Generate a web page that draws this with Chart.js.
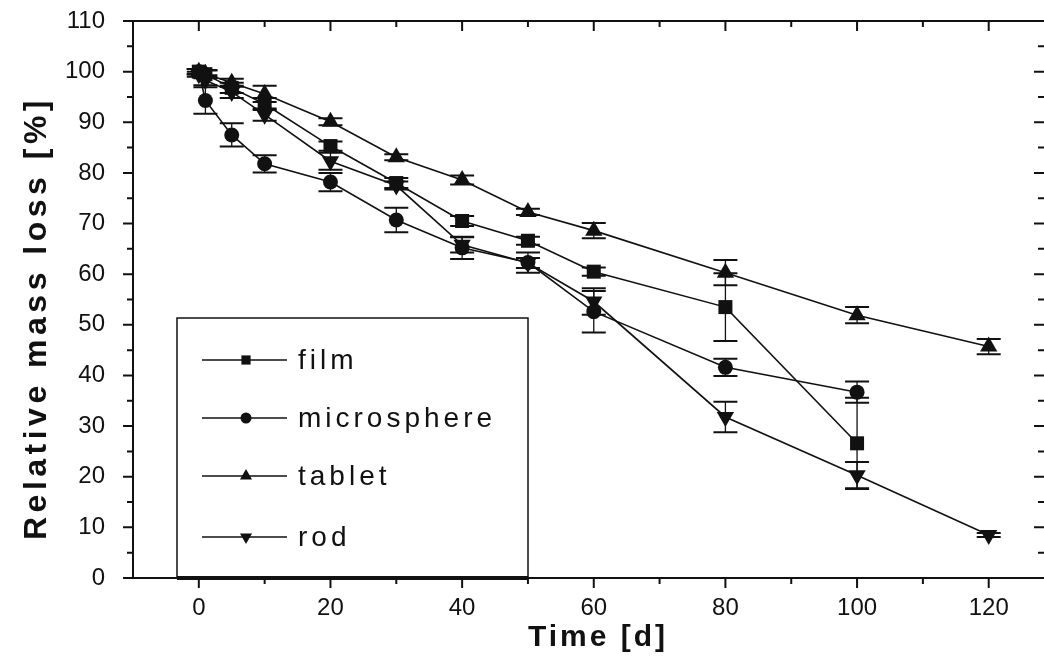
<!DOCTYPE html>
<html>
<head>
<meta charset="utf-8">
<script src="https://cdn.jsdelivr.net/npm/chart.js@4.4.1/dist/chart.umd.min.js"></script>
<style>
  html, body { margin: 0; padding: 0; background: #fff; overflow: hidden; }
  #wrap { width: 1044px; height: 668px; position: relative; }
</style>
</head>
<body>
<div id="wrap"><canvas id="chart"></canvas></div>
<script>
// relative mass loss vs time, four sample shapes
const X_TICKS = [0, 20, 40, 60, 80, 100, 120];
const Y_TICKS = [0, 10, 20, 30, 40, 50, 60, 70, 80, 90, 100, 110];

const TIME_FILM  = [0, 1, 5, 10, 20, 30, 40, 50, 60, 80, 100];
const FILM       = [100, 99.5, 96.8, 93.6, 85.3, 78.0, 70.5, 66.6, 60.5, 53.5, 26.6];
const FILM_ERR   = [0.5, 0.8, 1.0, 1.2, 0.9, 1.0, 1.0, 0.8, 0.8, 6.7, 9.0];

const TIME_MICRO = [0, 1, 5, 10, 20, 30, 40, 50, 60, 80, 100];
const MICRO      = [100, 94.3, 87.5, 81.8, 78.2, 70.7, 65.2, 62.3, 52.6, 41.6, 36.7];
const MICRO_ERR  = [0.5, 2.6, 2.3, 1.7, 1.8, 2.4, 2.2, 2.0, 4.1, 1.7, 2.1];

const TIME_TABLET = [0, 1, 5, 10, 20, 30, 40, 50, 60, 80, 100, 120];
const TABLET      = [100, 99.6, 97.8, 95.6, 90.1, 83.1, 78.6, 72.3, 68.6, 60.3, 51.9, 45.7];
const TABLET_ERR  = [0.5, 0.6, 0.8, 1.6, 0.7, 0.6, 0.9, 0.6, 1.5, 2.5, 1.6, 1.5];

const TIME_ROD = [0, 1, 5, 10, 20, 30, 40, 50, 60, 80, 100, 120];
const ROD      = [99.5, 98.3, 96.0, 91.5, 82.3, 77.5, 65.8, 62.2, 54.6, 31.8, 20.3, 8.5];
const ROD_ERR  = [0.5, 1.0, 1.2, 1.2, 1.7, 0.8, 1.5, 1.0, 2.6, 3.0, 2.6, 0.4];

const LABELS = ['film', 'microsphere', 'tablet', 'rod'];

const FONT = "'Liberation Sans', Arial, Helvetica, sans-serif";
const INK  = '#111';

const pts = (xs, ys) => xs.map((t, i) => ({ x: t, y: ys[i] }));

function series(label, xs, ys, errs, style, radius, rotation) {
  return {
    label,
    data: pts(xs, ys),
    errs,
    borderColor: INK,
    backgroundColor: INK,
    borderWidth: 1.6,
    pointStyle: style,
    pointRadius: radius,
    pointRotation: rotation || 0,
    pointBorderWidth: 0,
    pointBackgroundColor: INK,
    showLine: true,
    tension: 0,
  };
}

// eje con marcas: abajo/izq hacia fuera, arriba/dcha hacia dentro
const framePlugin = {
  id: 'frame',
  beforeDatasetsDraw(chart) {
    const { ctx, chartArea: a, scales: { x, y } } = chart;
    ctx.save();
    ctx.strokeStyle = INK;
    ctx.lineWidth = 2;
    ctx.beginPath();
    ctx.moveTo(a.left, a.top);    ctx.lineTo(a.right, a.top);
    ctx.moveTo(a.left, a.top);    ctx.lineTo(a.left, a.bottom);
    ctx.moveTo(a.left, a.bottom); ctx.lineTo(a.right, a.bottom);
    for (let v = 0; v <= 130; v += 10) {
      const px = x.getPixelForValue(v);
      if (px > a.right) continue;
      const len = v % 20 === 0 ? 10 : 6;
      ctx.moveTo(px, a.bottom); ctx.lineTo(px, a.bottom + len);
      ctx.moveTo(px, a.top);    ctx.lineTo(px, a.top + len);
    }
    for (let v = 0; v <= 110; v += 5) {
      const py = y.getPixelForValue(v);
      const len = v % 10 === 0 ? 10 : 6;
      ctx.moveTo(a.left - len, py);  ctx.lineTo(a.left, py);
      ctx.moveTo(a.right - len, py); ctx.lineTo(a.right, py);
    }
    ctx.stroke();

    // barras de error
    chart.data.datasets.forEach(ds => {
      ds.data.forEach((p, i) => {
        const e = ds.errs[i];
        const px = x.getPixelForValue(p.x);
        const y1 = y.getPixelForValue(p.y + e);
        const y2 = y.getPixelForValue(p.y - e);
        ctx.lineWidth = 1.3;
        ctx.beginPath();
        ctx.moveTo(px, y1); ctx.lineTo(px, y2);
        ctx.stroke();
        ctx.lineWidth = 2;
        ctx.beginPath();
        ctx.moveTo(px - 12, y1); ctx.lineTo(px + 12, y1);
        ctx.moveTo(px - 12, y2); ctx.lineTo(px + 12, y2);
        ctx.stroke();
      });
    });
    ctx.restore();
  },
  afterDraw(chart) {
    const { ctx, chartArea: a } = chart;
    ctx.save();

    // leyenda en caja
    const bx = 177, by = 318, bw = 351, bh = a.bottom - by;
    ctx.fillStyle = '#fff';
    ctx.fillRect(bx, by, bw, bh);
    ctx.strokeStyle = INK;
    ctx.lineWidth = 1.5;
    ctx.strokeRect(bx, by, bw, bh);
    ctx.lineWidth = 4;
    ctx.beginPath();
    ctx.moveTo(bx, a.bottom); ctx.lineTo(bx + bw, a.bottom);
    ctx.stroke();

    const rows = [360, 418, 476, 537];
    ctx.font = `28px ${FONT}`;
    ctx.letterSpacing = '4px';
    ctx.textBaseline = 'middle';
    ctx.textAlign = 'left';
    chart.data.datasets.forEach((ds, i) => {
      const ry = rows[i];
      ctx.strokeStyle = INK;
      ctx.lineWidth = 1.3;
      ctx.beginPath();
      ctx.moveTo(202, ry); ctx.lineTo(287, ry);
      ctx.stroke();
      ctx.fillStyle = INK;
      Chart.helpers.drawPoint(ctx, {
        pointStyle: ds.pointStyle, rotation: ds.pointRotation,
        radius: ds.pointStyle === 'rect' ? 6.5 : (ds.pointStyle === 'circle' ? 5.5 : 7),
        borderWidth: 0,
      }, 246, ry);
      ctx.fillStyle = INK;
      ctx.fillText(ds.label, 298, ry + 1);
    });

    // títulos de ejes
    ctx.fillStyle = INK;
    ctx.textAlign = 'center';
    ctx.textBaseline = 'middle';
    ctx.font = `bold 30px ${FONT}`;
    ctx.letterSpacing = '3px';
    ctx.fillText('Time [d]', 598, 638);

    ctx.translate(37, 318);
    ctx.rotate(-Math.PI / 2);
    ctx.font = `bold 32px ${FONT}`;
    ctx.letterSpacing = '4.5px';
    ctx.fillText('Relative mass loss [%]', 0, 0);
    ctx.restore();
  },
};

const ctx = document.getElementById('chart').getContext('2d');
new Chart(ctx, {
  type: 'scatter',
  data: {
    datasets: [
      series(LABELS[0], TIME_FILM, FILM, FILM_ERR, 'rect', 9.9),
      series(LABELS[1], TIME_MICRO, MICRO, MICRO_ERR, 'circle', 7.5),
      series(LABELS[2], TIME_TABLET, TABLET, TABLET_ERR, 'triangle', 10),
      series(LABELS[3], TIME_ROD, ROD, ROD_ERR, 'triangle', 10, 180),
    ],
  },
  options: {
    responsive: true,
    maintainAspectRatio: false,
    animation: false,
    layout: { autoPadding: false, padding: { top: 21, right: 0, bottom: 0, left: 0 } },
    plugins: { legend: { display: false }, tooltip: { enabled: false } },
    scales: {
      x: {
        type: 'linear',
        min: -10,
        max: 128.4,
        afterBuildTicks: s => { s.ticks = X_TICKS.map(v => ({ value: v })); },
        afterFit: s => { s.height = 90; s.paddingLeft = 0; s.paddingRight = 0; },
        grid: { display: false, drawTicks: false },
        border: { display: false },
        ticks: { font: { family: FONT, size: 24 }, color: INK, padding: 16, maxRotation: 0, autoSkip: false },
      },
      y: {
        min: 0,
        max: 110,
        afterBuildTicks: s => { s.ticks = Y_TICKS.map(v => ({ value: v })); },
        afterFit: s => { s.width = 133; s.paddingTop = 0; s.paddingBottom = 0; },
        grid: { display: false, drawTicks: false },
        border: { display: false },
        ticks: { font: { family: FONT, size: 24 }, color: INK, padding: 28 },
      },
    },
  },
  plugins: [framePlugin],
});
</script>
</body>
</html>
